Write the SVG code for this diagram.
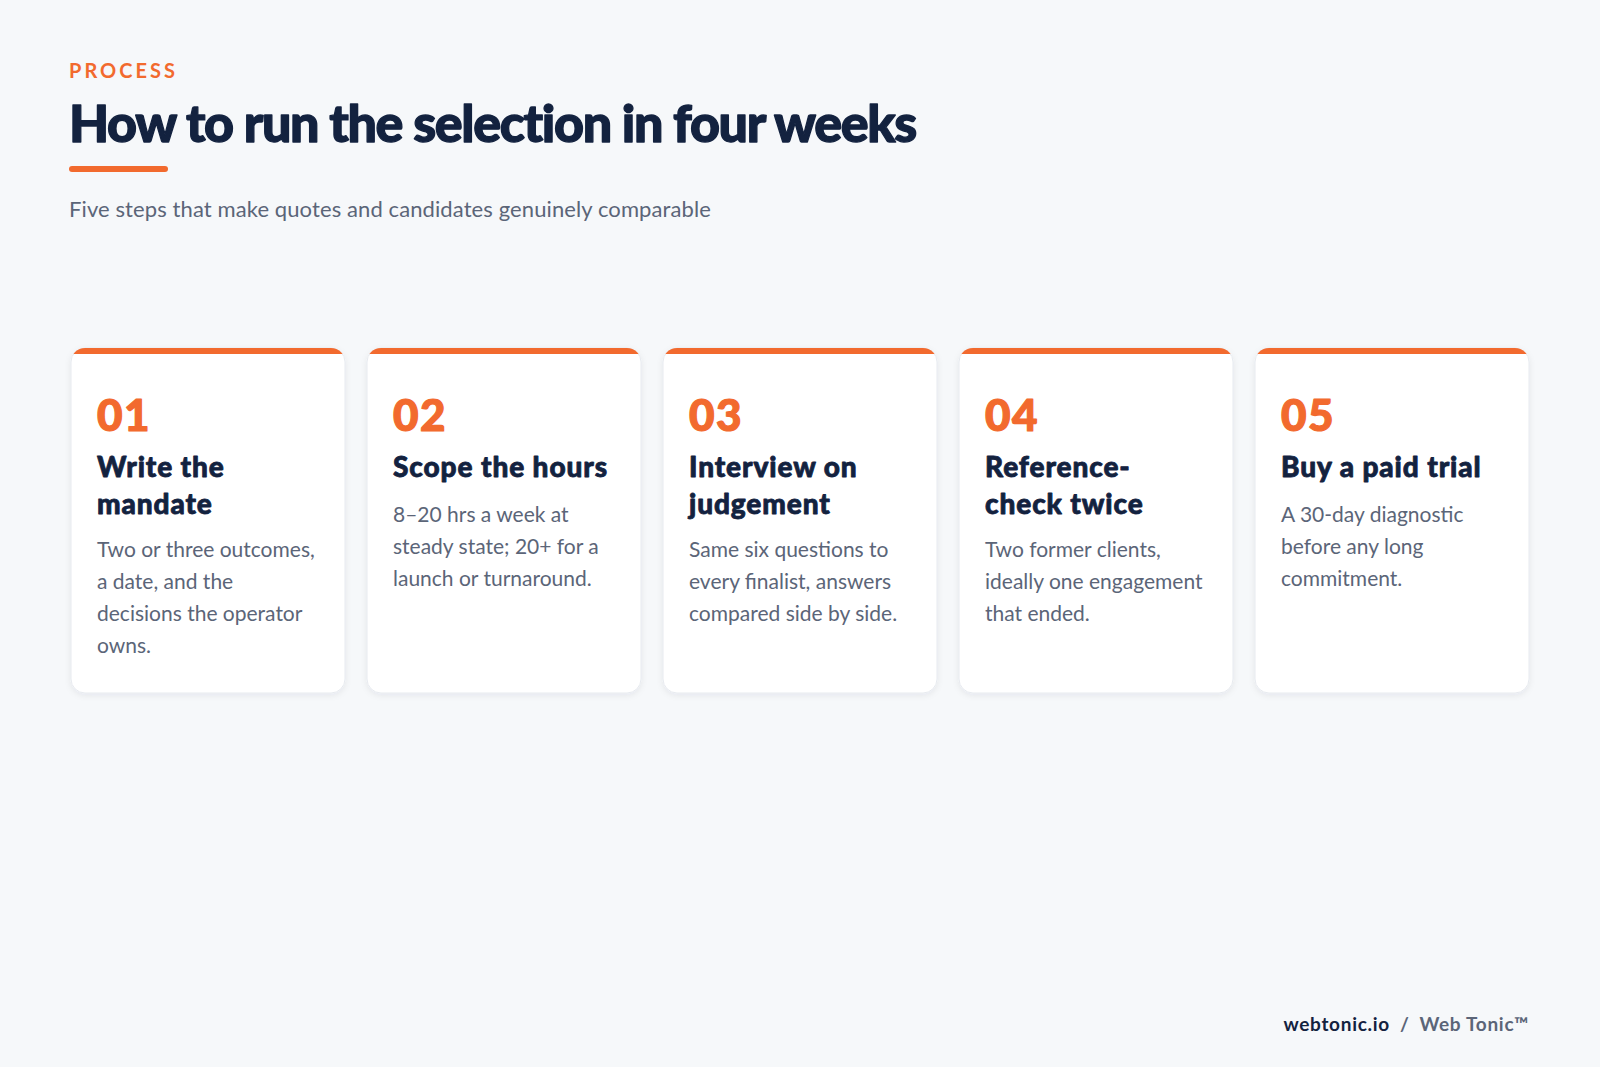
<svg xmlns="http://www.w3.org/2000/svg" width="1600" height="1067" viewBox="0 0 1600 1067">
<style>
.eyebrow{font-family:Lato,"Liberation Sans",sans-serif;font-weight:700;font-size:20px;letter-spacing:3px;fill:#f26a2e}
.title{font-family:Lato,"Liberation Sans",sans-serif;font-weight:900;font-size:52px;letter-spacing:-1.35px;fill:#13223f;stroke:#13223f;stroke-width:1.3px;stroke-linejoin:round}
.sub{font-family:Lato,"Liberation Sans",sans-serif;font-size:22px;fill:#5b6578;letter-spacing:0.1px}
.num{font-family:Lato,"Liberation Sans",sans-serif;font-weight:900;font-size:44px;letter-spacing:1.5px;fill:#f26a2e;stroke:#f26a2e;stroke-width:1.2px;stroke-linejoin:round}
.ct{font-family:Lato,"Liberation Sans",sans-serif;font-weight:900;font-size:28px;letter-spacing:0.9px;fill:#13223f;stroke:#13223f;stroke-width:0.8px;stroke-linejoin:round}
.cb{font-family:Lato,"Liberation Sans",sans-serif;font-size:21px;fill:#5b6578}
.card{fill:#ffffff;stroke:#e7eaef;stroke-width:1}
.bar{fill:#f26a2e}
.foot1{font-family:Lato,"Liberation Sans",sans-serif;font-weight:700;font-size:19px;letter-spacing:0.7px;fill:#13223f}
.foot2{font-family:Lato,"Liberation Sans",sans-serif;font-weight:700;font-size:19px;letter-spacing:0.7px;fill:#5b6578}
</style>
<defs>
<filter id="sh" x="-10%" y="-10%" width="120%" height="120%">
<feDropShadow dx="0" dy="2" stdDeviation="3" flood-color="#1a2540" flood-opacity="0.07"/>
</filter>
<clipPath id="cc"><rect x="0" y="0" width="274" height="345" rx="14"/></clipPath>
</defs>
<rect width="1600" height="1067" fill="#f6f8fa"/>
<g id="header">
<text class="eyebrow" x="69" y="78">PROCESS</text>
<text class="title" x="69" y="142">How to run the selection in four weeks</text>
<rect x="69" y="166" width="99" height="6" rx="3" fill="#f26a2e"/>
<text class="sub" x="69" y="217">Five steps that make quotes and candidates genuinely comparable</text>
</g>
<g id="step1" transform="translate(71,348)">
<rect class="card" x="0" y="0" width="274" height="345" rx="14" filter="url(#sh)"/>
<rect class="bar" x="0" y="0" width="274" height="6" clip-path="url(#cc)"/>
<text class="num" x="26" y="83">01</text>
<text class="ct" x="26" y="129">Write the</text>
<text class="ct" x="26" y="166">mandate</text>
<text class="cb" x="26" y="209">Two or three outcomes,</text>
<text class="cb" x="26" y="241">a date, and the</text>
<text class="cb" x="26" y="273">decisions the operator</text>
<text class="cb" x="26" y="305">owns.</text>
</g>
<g id="step2" transform="translate(367,348)">
<rect class="card" x="0" y="0" width="274" height="345" rx="14" filter="url(#sh)"/>
<rect class="bar" x="0" y="0" width="274" height="6" clip-path="url(#cc)"/>
<text class="num" x="26" y="83">02</text>
<text class="ct" x="26" y="129">Scope the hours</text>
<text class="cb" x="26" y="174">8–20 hrs a week at</text>
<text class="cb" x="26" y="206">steady state; 20+ for a</text>
<text class="cb" x="26" y="238">launch or turnaround.</text>
</g>
<g id="step3" transform="translate(663,348)">
<rect class="card" x="0" y="0" width="274" height="345" rx="14" filter="url(#sh)"/>
<rect class="bar" x="0" y="0" width="274" height="6" clip-path="url(#cc)"/>
<text class="num" x="26" y="83">03</text>
<text class="ct" x="26" y="129">Interview on</text>
<text class="ct" x="26" y="166">judgement</text>
<text class="cb" x="26" y="209">Same six questions to</text>
<text class="cb" x="26" y="241">every finalist, answers</text>
<text class="cb" x="26" y="273">compared side by side.</text>
</g>
<g id="step4" transform="translate(959,348)">
<rect class="card" x="0" y="0" width="274" height="345" rx="14" filter="url(#sh)"/>
<rect class="bar" x="0" y="0" width="274" height="6" clip-path="url(#cc)"/>
<text class="num" x="26" y="83">04</text>
<text class="ct" x="26" y="129">Reference-</text>
<text class="ct" x="26" y="166">check twice</text>
<text class="cb" x="26" y="209">Two former clients,</text>
<text class="cb" x="26" y="241">ideally one engagement</text>
<text class="cb" x="26" y="273">that ended.</text>
</g>
<g id="step5" transform="translate(1255,348)">
<rect class="card" x="0" y="0" width="274" height="345" rx="14" filter="url(#sh)"/>
<rect class="bar" x="0" y="0" width="274" height="6" clip-path="url(#cc)"/>
<text class="num" x="26" y="83">05</text>
<text class="ct" x="26" y="129">Buy a paid trial</text>
<text class="cb" x="26" y="174">A 30-day diagnostic</text>
<text class="cb" x="26" y="206">before any long</text>
<text class="cb" x="26" y="238">commitment.</text>
</g>
<g id="connectors"></g>
<g id="footer">
<text x="1529" y="1031" text-anchor="end"><tspan class="foot1">webtonic.io</tspan><tspan class="foot2" dx="10">/</tspan><tspan class="foot2" dx="10">Web Tonic™</tspan></text>
</g>
</svg>
